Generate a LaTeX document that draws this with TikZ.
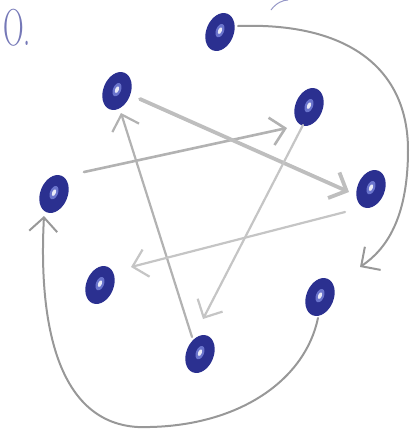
\documentclass[tikz,border=0pt]{standalone}
\usepackage{tikz}
\usetikzlibrary{shapes.geometric, arrows.meta}

\definecolor{tinte}{HTML}{2B3090}
\definecolor{hell}{HTML}{6A74CC}
\definecolor{blei}{HTML}{B2B2B2}
\definecolor{bleidunkel}{HTML}{989898}

\tikzset{
  punkt/.style={ellipse, draw=tinte, fill=tinte, line width=1.4pt,
    minimum width=26pt, minimum height=38pt, inner sep=0pt, rotate=-22,
    path picture={
      \fill[hell] (path picture bounding box.center) ellipse (4pt and 7pt);
      \fill[white!85!hell] (path picture bounding box.center) ellipse (1.8pt and 3.5pt);
    }},
  spitze/.style={-{Straight Barb[length=14pt, width=28pt]}},
  pfeil/.style={draw=blei, line width=2.2pt, line cap=round, spitze},
  bogen/.style={draw=bleidunkel, line width=2pt, line cap=round},
}

\begin{document}
\begin{tikzpicture}[x=1pt, y=-1pt]
  \useasboundingbox (0,0) rectangle (416,440);

  % Knoten
  \node[punkt] (oben) at (220,32) {};
  \node[punkt] (linksoben) at (117,91) {};
  \node[punkt] (rechtsoben) at (309,107) {};
  \node[punkt] (links) at (54,194) {};
  \node[punkt] (rechts) at (371,189) {};
  \node[punkt] (linksunten) at (100,285) {};
  \node[punkt] (rechtsunten) at (320,297) {};
  \node[punkt] (unten) at (200,354) {};

  % Notiz oben links
  \node[text=tinte!65, font=\fontsize{52}{52}\selectfont, xscale=0.55,
    anchor=base west, inner sep=0pt] (notiz) at (3,45) {O.};
  \draw[draw=tinte!50, line width=1pt] (271,10) .. controls (276,3) and (283,0) .. (288,0);

  % Pfeile
  \draw[pfeil, line width=2.6pt]
    ([shift={(30,-22)}]links.center) -- ([shift={(-22,21)}]rechtsoben.center);
  \draw[pfeil, line width=3.8pt, draw=blei!85]
    ([shift={(23,8)}]linksoben.center) -- ([shift={(-22,3)}]rechts.center);
  \draw[pfeil]
    ([shift={(-8,-17)}]unten.center) -- ([shift={(4,22)}]linksoben.center);
  \draw[pfeil, draw=blei!75]
    ([shift={(-6,18)}]rechtsoben.center) -- ([shift={(3,-35)}]unten.center);
  \draw[pfeil, draw=blei!75]
    ([shift={(-26,23)}]rechts.center) -- ([shift={(31,-18)}]linksunten.center);

  % Boegen aussen
  \draw[bogen, spitze]
    ([shift={(18,-6)}]oben.center) .. controls (350,22) and (408,70) .. (408,150)
    .. controls (408,220) and (385,250) .. ([shift={(40,-30)}]rechtsunten.center);
  \draw[bogen, spitze]
    ([shift={(-2,21)}]rechtsunten.center) .. controls (305,380) and (240,425) .. (150,427)
    .. controls (60,432) and (38,330) .. ([shift={(-10,22)}]links.center);
\end{tikzpicture}
\end{document}
